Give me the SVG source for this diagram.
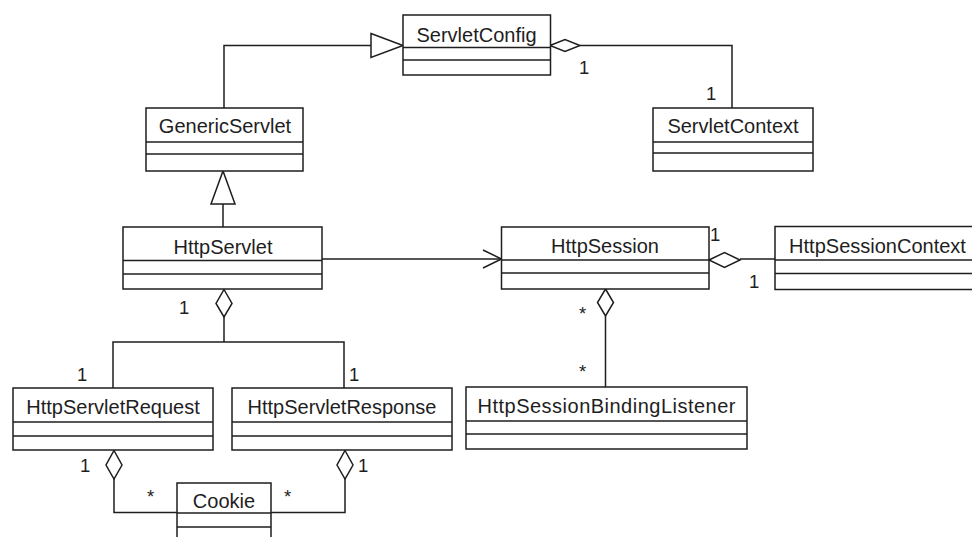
<svg xmlns="http://www.w3.org/2000/svg" width="972" height="537" viewBox="0 0 972 537">
  <style>
    .box { fill: #ffffff; stroke: #1e1e1e; stroke-width: 1.5; }
    .div { stroke: #1e1e1e; stroke-width: 1.5; }
    .name { font-family: "Liberation Sans", Arial, sans-serif; font-size: 20px; fill: #1e1e1e; text-anchor: middle; }
    .mult { font-family: "Liberation Sans", Arial, sans-serif; font-size: 18.5px; fill: #1e1e1e; }
    .line { fill: none; stroke: #1e1e1e; stroke-width: 1.5; }
    .hollow { fill: #ffffff; stroke: #1e1e1e; stroke-width: 1.5; }
  </style>
  <rect width="972" height="537" fill="#ffffff"/>

  <!-- connectors -->
  <g id="connectors">
    <!-- GenericServlet generalizes ServletConfig -->
    <polyline class="line" points="224,108 224,45.5 371,45.5"/>
    <polygon class="hollow" points="371,33.5 403,45.5 371,57.5"/>
    <!-- ServletConfig aggregates ServletContext -->
    <polyline class="line" points="580,45.5 732,45.5 732,108"/>
    <polygon class="hollow" points="550,45.5 565,39.5 580,45.5 565,51.5"/>
    <text class="mult" x="579" y="74">1</text>
    <text class="mult" x="706" y="100">1</text>
    <!-- HttpServlet generalizes GenericServlet -->
    <line class="line" x1="223" y1="227" x2="223" y2="204"/>
    <polygon class="hollow" points="211,204 223,171 235,204"/>
    <!-- HttpServlet navigates to HttpSession -->
    <line class="line" x1="322" y1="259" x2="501" y2="259"/>
    <polyline class="line" points="483,250 501.5,259 483,268"/>
    <!-- HttpSession aggregates HttpSessionContext -->
    <line class="line" x1="740" y1="259" x2="775" y2="259"/>
    <polygon class="hollow" points="709,260 724.5,252.5 740,260 724.5,267.5"/>
    <text class="mult" x="710" y="241">1</text>
    <text class="mult" x="749" y="288">1</text>
    <!-- HttpSession aggregates HttpSessionBindingListener -->
    <line class="line" x1="605.5" y1="316" x2="605.5" y2="387"/>
    <polygon class="hollow" points="605.5,289 613.5,302.5 605.5,316 597.5,302.5"/>
    <text class="mult" x="579" y="320">*</text>
    <text class="mult" x="579" y="378">*</text>
    <!-- HttpServlet aggregates request and response -->
    <polyline class="line" points="113,388 113,342 344,342 344,388"/>
    <line class="line" x1="224" y1="317" x2="224" y2="342"/>
    <polygon class="hollow" points="224,289.5 232,303.5 224,317 216,303.5"/>
    <text class="mult" x="179" y="314">1</text>
    <text class="mult" x="77" y="381">1</text>
    <text class="mult" x="349" y="381">1</text>
    <!-- request and response aggregate Cookie -->
    <polyline class="line" points="114,479 114,512.5 177,512.5"/>
    <polygon class="hollow" points="114,450.5 122,465 114,479 106,465"/>
    <polyline class="line" points="345,479 345,512.5 271,512.5"/>
    <polygon class="hollow" points="345,450.5 353,465 345,479 337,465"/>
    <text class="mult" x="80" y="472">1</text>
    <text class="mult" x="358" y="472">1</text>
    <text class="mult" x="147" y="503">*</text>
    <text class="mult" x="284" y="503">*</text>
  </g>

  <!-- classes -->
  <g id="ServletConfig">
    <rect class="box" x="403" y="15" width="147.5" height="60"/>
    <line class="div" x1="403" y1="47.5" x2="550.5" y2="47.5"/>
    <line class="div" x1="403" y1="60" x2="550.5" y2="60"/>
    <text class="name" x="476.5" y="41.5">ServletConfig</text>
  </g>
  <g id="GenericServlet">
    <rect class="box" x="146" y="108" width="157" height="63"/>
    <line class="div" x1="146" y1="142" x2="303" y2="142"/>
    <line class="div" x1="146" y1="154" x2="303" y2="154"/>
    <text class="name" x="225" y="133">GenericServlet</text>
  </g>
  <g id="ServletContext">
    <rect class="box" x="653" y="108" width="160" height="63"/>
    <line class="div" x1="653" y1="142" x2="813" y2="142"/>
    <line class="div" x1="653" y1="153" x2="813" y2="153"/>
    <text class="name" x="733" y="133">ServletContext</text>
  </g>
  <g id="HttpServlet">
    <rect class="box" x="123" y="227" width="199" height="62"/>
    <line class="div" x1="123" y1="260.5" x2="322" y2="260.5"/>
    <line class="div" x1="123" y1="274" x2="322" y2="274"/>
    <text class="name" x="223" y="253.5">HttpServlet</text>
  </g>
  <g id="HttpSession">
    <rect class="box" x="501.5" y="227" width="207.5" height="62"/>
    <line class="div" x1="501.5" y1="260" x2="709" y2="260"/>
    <line class="div" x1="501.5" y1="273" x2="709" y2="273"/>
    <text class="name" x="605" y="253">HttpSession</text>
  </g>
  <g id="HttpSessionContext">
    <rect class="box" x="775" y="226.5" width="210" height="63"/>
    <line class="div" x1="775" y1="260" x2="985" y2="260"/>
    <line class="div" x1="775" y1="273.5" x2="985" y2="273.5"/>
    <text class="name" x="877.5" y="253">HttpSessionContext</text>
  </g>
  <g id="HttpServletRequest">
    <rect class="box" x="13" y="388" width="200" height="62"/>
    <line class="div" x1="13" y1="422" x2="213" y2="422"/>
    <line class="div" x1="13" y1="436" x2="213" y2="436"/>
    <text class="name" x="113" y="414">HttpServletRequest</text>
  </g>
  <g id="HttpServletResponse">
    <rect class="box" x="232" y="388" width="220" height="62"/>
    <line class="div" x1="232" y1="422" x2="452" y2="422"/>
    <line class="div" x1="232" y1="436" x2="452" y2="436"/>
    <text class="name" x="342" y="414">HttpServletResponse</text>
  </g>
  <g id="HttpSessionBindingListener">
    <rect class="box" x="466" y="387" width="281" height="62"/>
    <line class="div" x1="466" y1="421" x2="747" y2="421"/>
    <line class="div" x1="466" y1="434" x2="747" y2="434"/>
    <text class="name" x="606.5" y="413" textLength="258" lengthAdjust="spacing">HttpSessionBindingListener</text>
  </g>
  <g id="Cookie">
    <rect class="box" x="177" y="483" width="94" height="70"/>
    <line class="div" x1="177" y1="513" x2="271" y2="513"/>
    <line class="div" x1="177" y1="527" x2="271" y2="527"/>
    <text class="name" x="224" y="508">Cookie</text>
  </g>
</svg>
